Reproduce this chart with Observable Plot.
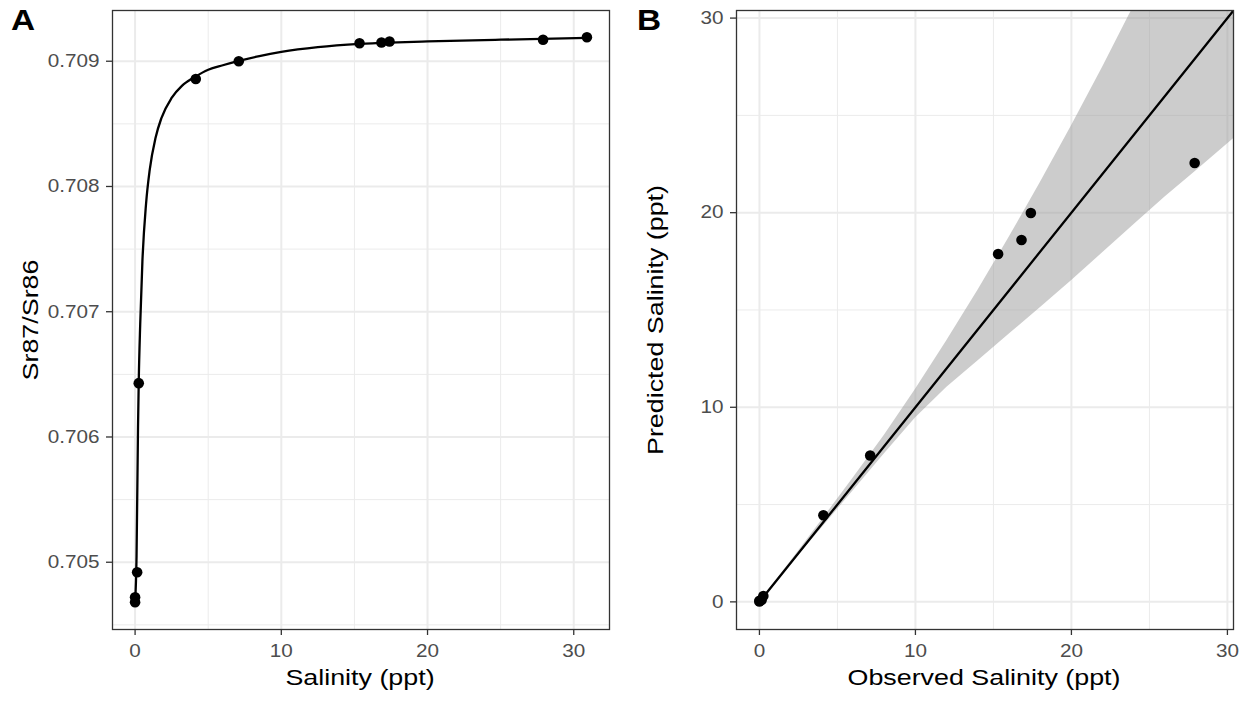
<!DOCTYPE html>
<html>
<head>
<meta charset="utf-8">
<script src="https://cdn.jsdelivr.net/npm/d3@7"></script>
<script src="https://cdn.jsdelivr.net/npm/@observablehq/plot@0.6"></script>
<style>
  html, body { margin: 0; padding: 0; background: #fff; }
  #wrap { position: relative; width: 1247px; height: 702px; background: #fff; font-family: "Liberation Sans", Arial, sans-serif; overflow: hidden; }
  .panel { position: absolute; top: 0; }
  .panel svg { overflow: visible; }
  .panel g[aria-label$="axis tick"] { color: #333333; }
  .panel g[aria-label$="tick label"] { color: #4d4d4d; }
  .lab { position: absolute; color: #000; white-space: nowrap; font-size: 22px; line-height: 1; }
  .tag { position: absolute; font-weight: bold; font-size: 29px; line-height: 1; color: #000; transform: scaleX(1.15); transform-origin: 0 0; }
  .rot { transform: translate(-50%, -50%) rotate(-90deg) scaleX(1.22); }
  .hc { transform: translate(-50%, 0) scaleX(1.22); }
</style>
</head>
<body>
<div id="wrap">
  <div class="panel" id="pa" style="left:0px"></div>
  <div class="panel" id="pb" style="left:620px"></div>
  <div class="tag" style="left:11px; top:6px">A</div>
  <div class="tag" style="left:637px; top:6px">B</div>
  <div class="lab rot" style="left:31px; top:320px">Sr87/Sr86</div>
  <div class="lab hc" style="left:360px; top:667px">Salinity (ppt)</div>
  <div class="lab rot" style="left:656px; top:320px">Predicted Salinity (ppt)</div>
  <div class="lab hc" style="left:984px; top:667px">Observed Salinity (ppt)</div>
</div>
<script>
// ---- Panel A data: observed salinity vs Sr87/Sr86 ----
const salinityA = [0, 0, 0.14, 0.25, 4.15, 7.09, 15.35, 16.85, 17.4, 27.9, 30.9];
const srRatioA  = [0.70468, 0.70472, 0.70492, 0.70643, 0.708858, 0.70900, 0.709144, 0.709149, 0.709157, 0.709171, 0.709192];
// fitted mixing curve
const curveS  = [0, 0.1, 0.2, 0.25, 0.35, 0.5, 0.75, 1.0, 1.4, 1.8, 2.5, 3.2, 4.1, 5, 6, 7.1, 8.5, 10, 12.5, 15.35, 17.4, 20, 25, 30.9];
const curveSr = [0.70468, 0.70505, 0.70608, 0.706445, 0.70690, 0.707402, 0.707862, 0.708132, 0.708390, 0.708546, 0.708707, 0.708803, 0.708875, 0.708932, 0.708968, 0.709003, 0.709041, 0.709074, 0.709112, 0.709138, 0.709149, 0.709158, 0.709172, 0.709186];
const xTicksA = [0, 10, 20, 30];
const xMinorA = [5, 15, 25];
const yTicksA = [0.705, 0.706, 0.707, 0.708, 0.709];
const yMinorA = [0.7045, 0.7055, 0.7065, 0.7075, 0.7085];

// ---- Panel B data: observed vs predicted salinity ----
const observedB  = [0, 0, 0.14, 0.25, 4.1, 7.1, 15.3, 16.8, 17.4, 27.9];
const predictedB = [0.02, 0.06, 0.1, 0.3, 4.45, 7.52, 17.88, 18.6, 19.98, 22.55];
const lineX = [0, 31];
const lineY = [0, 31];
const bandX    = [0, 2, 4, 6, 8, 10, 12, 14, 16, 18, 20, 22, 24, 26, 28, 30.4, 31];
const bandLow  = [0, 1.92, 3.8, 5.7, 7.6, 9.45, 11.01, 12.38, 13.75, 15.12, 16.5, 17.94, 19.38, 20.8, 22.15, 23.8, 24.2];
const bandHigh = [0, 2.08, 4.2, 6.35, 8.55, 10.91, 13.41, 16.0, 18.72, 21.54, 24.46, 27.48, 30.62, 33.8, 37.0, 41.0, 42.0];
const ticksB = [0, 10, 20, 30];
const minorB = [5, 15, 25];

const gridCol = "#ebebeb";
const font = "Liberation Sans, Arial, sans-serif";
const TXT = 18;

function stretchText(svg, k) {
  svg.querySelectorAll("text").forEach(t => {
    const xs = t.getAttribute("x");
    if (xs !== null && xs !== "" && !isNaN(+xs)) t.setAttribute("x", +xs / k);
    const dx = t.getAttribute("dx");
    if (dx !== null && dx !== "" && !isNaN(+dx)) t.setAttribute("dx", +dx / k);
    const tr = t.getAttribute("transform") || "";
    t.setAttribute("transform", (tr + ` scale(${k},1)`).trim());
  });
}

const ptsA = salinityA.map((s, i) => ({s, r: srRatioA[i]}));
const curA = curveS.map((s, i) => ({s, r: curveSr[i]}));

const chartA = Plot.plot({
  width: 620, height: 702,
  marginLeft: 112, marginRight: 11, marginTop: 10, marginBottom: 73,
  style: {fontFamily: font, fontSize: TXT + "px", background: "transparent"},
  x: {domain: [-1.545, 32.445]},
  y: {domain: [0.704463, 0.709405]},
  marks: [
    Plot.ruleX(xMinorA, {stroke: gridCol, strokeWidth: 1}),
    Plot.ruleY(yMinorA, {stroke: gridCol, strokeWidth: 1}),
    Plot.ruleX(xTicksA, {stroke: gridCol, strokeWidth: 2}),
    Plot.ruleY(yTicksA, {stroke: gridCol, strokeWidth: 2}),
    Plot.line(curA, {x: "s", y: "r", curve: "monotone-x", stroke: "#000", strokeWidth: 2.3}),
    Plot.dot(ptsA, {x: "s", y: "r", r: 5.3, fill: "#000", stroke: null}),
    Plot.frame({stroke: "#333", strokeWidth: 1.3}),
    Plot.axisX(xTicksA, {tickSize: 6, tickPadding: 9, fontSize: TXT, label: null, strokeWidth: 1.3}),
    Plot.axisY(yTicksA, {tickSize: 6, tickPadding: 7, fontSize: TXT, label: null, tickFormat: d3.format(".3f"), strokeWidth: 1.3})
  ]
});
stretchText(chartA, 1.15);
document.getElementById("pa").appendChild(chartA);

const ptsB = observedB.map((o, i) => ({o, p: predictedB[i]}));
const lnB = lineX.map((x, i) => ({x, y: lineY[i]}));
const bdB = bandX.map((x, i) => ({x, lo: bandLow[i], hi: bandHigh[i]}));

const chartB = Plot.plot({
  width: 627, height: 702,
  marginLeft: 116, marginRight: 14, marginTop: 10, marginBottom: 73,
  style: {fontFamily: font, fontSize: TXT + "px", background: "transparent"},
  x: {domain: [-1.47, 30.39]},
  y: {domain: [-1.42, 30.39]},
  marks: [
    Plot.ruleX(minorB, {stroke: gridCol, strokeWidth: 1}),
    Plot.ruleY(minorB, {stroke: gridCol, strokeWidth: 1}),
    Plot.ruleX(ticksB, {stroke: gridCol, strokeWidth: 2}),
    Plot.ruleY(ticksB, {stroke: gridCol, strokeWidth: 2}),
    Plot.areaY(bdB, {x: "x", y1: "lo", y2: "hi", fill: "#999999", fillOpacity: 0.5, clip: true}),
    Plot.line(lnB, {x: "x", y: "y", stroke: "#000", strokeWidth: 2.3, clip: true}),
    Plot.dot(ptsB, {x: "o", y: "p", r: 5.3, fill: "#000", stroke: null}),
    Plot.frame({stroke: "#333", strokeWidth: 1.3}),
    Plot.axisX(ticksB, {tickSize: 6, tickPadding: 9, fontSize: TXT, label: null, strokeWidth: 1.3}),
    Plot.axisY(ticksB, {tickSize: 6, tickPadding: 7, fontSize: TXT, label: null, strokeWidth: 1.3})
  ]
});
stretchText(chartB, 1.15);
document.getElementById("pb").appendChild(chartB);
</script>
</body>
</html>
